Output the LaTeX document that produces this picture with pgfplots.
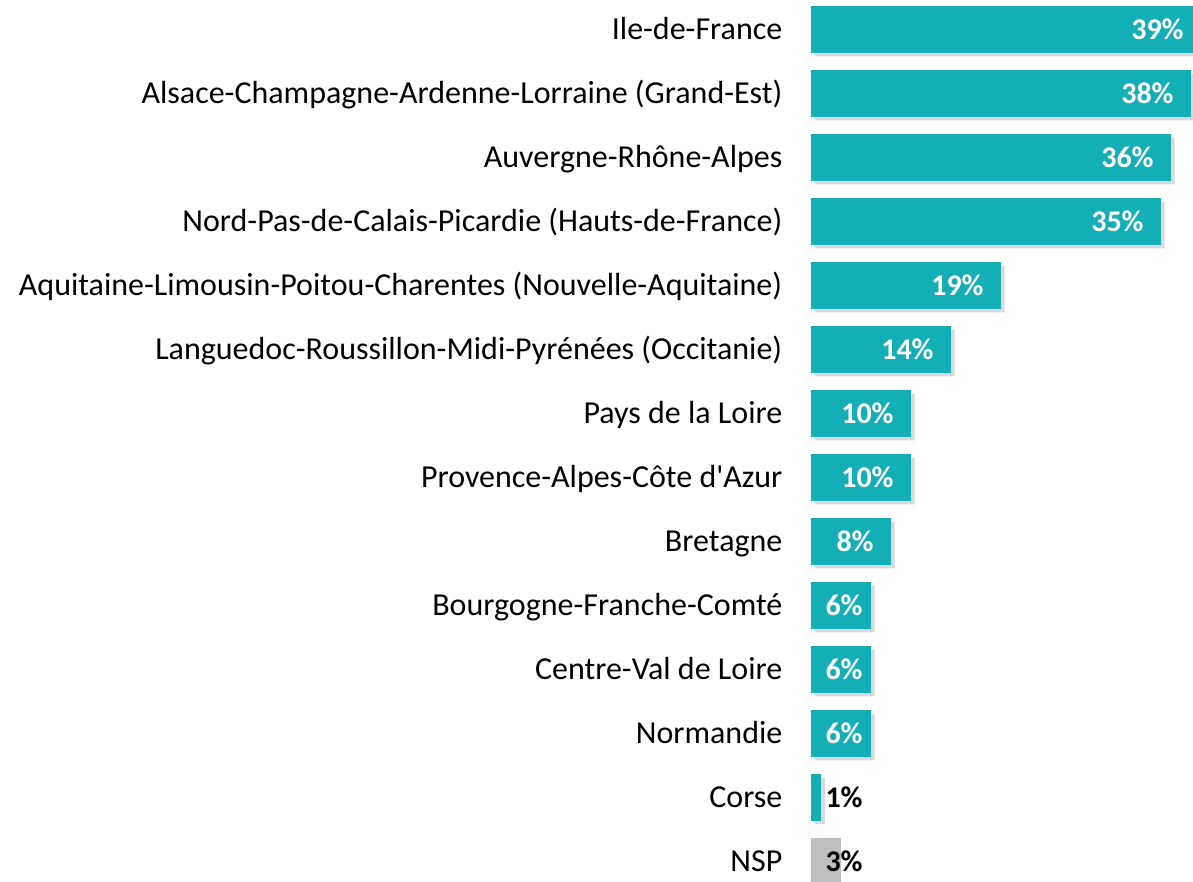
\documentclass[border=0pt]{standalone}
\usepackage{fontspec}
\setmainfont{Carlito}
\usepackage{pgfplots}
\usepackage{pgfplotstable}
\pgfplotsset{compat=1.18}
\usetikzlibrary{shadows}
\definecolor{teal1}{RGB}{20,174,182}
\definecolor{nspgray}{RGB}{191,191,191}

\pgfplotstableread{
idx val lx
0 39 37.3
1 38 36.3
2 36 34.3
3 35 33.3
4 19 17.3
5 14 12.3
6 10 8.3
7 10 8.3
8 8 6.3
9 6 5.2
10 6 5.2
11 6 5.2
}\regions
\pgfplotstableread{
idx val lx
12 1 5.2
}\corse
\pgfplotstableread{
idx val lx
13 3 5.2
}\nsp

\begin{document}
\begin{tikzpicture}
\begin{axis}[
  scale only axis, width=191pt, height=441pt,
  xmin=0, xmax=38.2, ymin=-0.46, ymax=13.32, y dir=reverse,
  axis line style={draw=none},
  xtick=\empty, ytick={0,...,13},
  yticklabels={Ile-de-France,
    Alsace-Champagne-Ardenne-Lorraine (Grand-Est),
    Auvergne-Rhône-Alpes,
    Nord-Pas-de-Calais-Picardie (Hauts-de-France),
    Aquitaine-Limousin-Poitou-Charentes (Nouvelle-Aquitaine),
    Languedoc-Roussillon-Midi-Pyrénées (Occitanie),
    Pays de la Loire,
    Provence-Alpes-Côte d\textquotesingle Azur,
    Bretagne,
    Bourgogne-Franche-Comté,
    Centre-Val de Loire,
    Normandie,
    Corse,
    NSP},
  major tick length=0,
  yticklabel style={font=\fontsize{16}{19}\selectfont, xshift=-10.8pt, yshift=-1.8pt, text height=1.3ex, text depth=0pt},
  clip=true,
]
\addplot[xbar, bar shift=0pt, bar width=0.73, fill=teal1, draw=none,
  drop shadow={shadow xshift=1.8pt, shadow yshift=-1.8pt, opacity=0.25, fill=black!60}]
  table[x=val, y=idx] {\regions};
\addplot[xbar, bar shift=0pt, bar width=0.73, fill=teal1, draw=none,
  drop shadow={shadow xshift=1.8pt, shadow yshift=-1.8pt, opacity=0.25, fill=black!60}]
  table[x=val, y=idx] {\corse};
\addplot[xbar, bar shift=0pt, bar width=0.73, fill=nspgray, draw=none]
  table[x=val, y=idx] {\nsp};
\addplot[draw=none, mark=none, point meta=explicit symbolic,
  nodes near coords={\pgfplotspointmeta\%},
  nodes near coords style={anchor=east, inner sep=0pt, text=white, font=\fontsize{15}{18}\selectfont\bfseries}]
  table[x=lx, y=idx, meta=val] {\regions};
\addplot[draw=none, mark=none, point meta=explicit symbolic,
  nodes near coords={\pgfplotspointmeta\%},
  nodes near coords style={anchor=east, inner sep=0pt, text=black, font=\fontsize{15}{18}\selectfont\bfseries}]
  table[x=lx, y=idx, meta=val] {\corse};
\addplot[draw=none, mark=none, point meta=explicit symbolic,
  nodes near coords={\pgfplotspointmeta\%},
  nodes near coords style={anchor=east, inner sep=0pt, text=black, font=\fontsize{15}{18}\selectfont\bfseries}]
  table[x=lx, y=idx, meta=val] {\nsp};
\end{axis}
\pgfresetboundingbox
\path[use as bounding box] ([xshift=-405.5pt]current axis.south west) rectangle (current axis.north east);
\end{tikzpicture}
\end{document}
